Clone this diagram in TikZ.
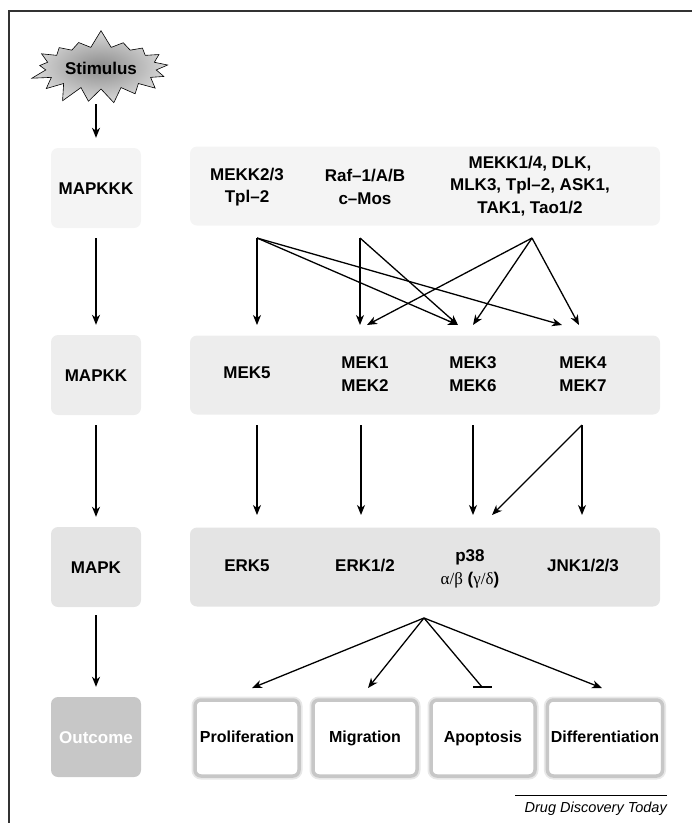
\documentclass[tikz,border=0pt]{standalone}
\usepackage{fontspec}
\setmainfont{Liberation Sans}
\newfontfamily\greekfont{Liberation Serif}
\usetikzlibrary{arrows.meta,shapes.symbols}
\definecolor{kkkgray}{gray}{0.955}
\definecolor{kkgray}{gray}{0.93}
\definecolor{kgray}{gray}{0.895}
\definecolor{outgray}{gray}{0.78}
\tikzset{
	lvlbox/.style={rounded corners=7pt, minimum width=90pt, minimum height=80pt, text height=12pt, text depth=0pt, font=\bfseries\fontsize{17}{22}\selectfont},
	rowbox/.style={rounded corners=7pt, minimum width=470pt, minimum height=79pt},
	lbl/.style={align=center, font=\bfseries\fontsize{17}{22.5}\selectfont},
	outbox/.style={preaction={draw=black!9, line width=7pt}, draw=black!22, line width=3.5pt, rounded corners=6pt, fill=white, minimum width=104pt, minimum height=76pt, text height=12pt, text depth=4pt, font=\bfseries\fontsize{16}{22}\selectfont},
	arr/.style={line width=1.3pt, -{Stealth[length=10pt, width=8pt, inset=3pt]}},
}

\begin{document}
\begin{tikzpicture}[x=1pt, y=-1pt]
		%%%%% START %%%%%
		\useasboundingbox (0, 0) rectangle (692, 823);
		
		\draw[line width=1.5pt, color=black!80] (692, 11) -- (9, 11) -- (9, 823);
		
		\node[starburst, starburst points=17, starburst point height=18pt, random starburst=7, minimum width=124pt, minimum height=78pt, draw=black, line width=0.6pt, inner color=black!45, outer color=black!15, font=\bfseries\fontsize{17}{22}\selectfont] (stim) at (101, 68) {Stimulus};
		\coordinate (stimfoot) at (96, 104);
		
		% level boxes on the left
		\node[lvlbox, fill=kkkgray] (mapkkk) at (96, 188) {MAPKKK};
		\node[lvlbox, fill=kkgray] (mapkk) at (96, 375) {MAPKK};
		\node[lvlbox, fill=kgray] (mapk) at (96, 567) {MAPK};
		\node[lvlbox, fill=outgray, text=white] (outcome) at (96, 737) {Outcome};
		
		\draw[arr, shorten >=10pt] (stimfoot) -- (mapkkk.north);
		\draw[arr, shorten <=10pt, shorten >=10pt] (mapkkk.south) -- (mapkk.north);
		\draw[arr, shorten <=10pt, shorten >=10pt] (mapkk.south) -- (mapk.north);
		\draw[arr, shorten <=8pt, shorten >=10pt] (mapk.south) -- (outcome.north);
		
		% rows
		\node[rowbox, fill=kkkgray] (rowkkk) at (425, 186) {};
		\node[rowbox, fill=kkgray] (rowkk) at (425, 375) {};
		\node[rowbox, fill=kgray] (rowk) at (425, 567) {};
		
		\node[lbl] (mekk23) at (247, 187) {MEKK2/3\\Tpl--2};
		\node[lbl] (raf) at (365, 187) {Raf--1/A/B\\c--Mos};
		\node[lbl] (mekk14) at (530, 186) {MEKK1/4, DLK,\\MLK3, Tpl--2, ASK1,\\TAK1, Tao1/2};
		
		\node[lbl] (mek5) at (247, 373) {MEK5};
		\node[lbl] (mek12) at (365, 374) {MEK1\\MEK2};
		\node[lbl] (mek36) at (473, 374) {MEK3\\MEK6};
		\node[lbl] (mek47) at (583, 374) {MEK4\\MEK7};
		
		\node[lbl] (erk5) at (247, 566) {ERK5};
		\node[lbl] (erk12) at (365, 566) {ERK1/2};
		\node[lbl] (p38) at (470, 569) {p38\\{\mdseries\greekfont α/β} ({\mdseries\greekfont γ/δ})};
		\node[lbl] (jnk) at (583, 566) {JNK1/2/3};
		
		% MAPKKK -> MAPKK
		\coordinate (srcA) at (257, 238);
		\coordinate (srcB) at (360, 238);
		\coordinate (srcC) at (532, 238);
		\coordinate (tgtA) at (257, 325);
		\coordinate (tgtB) at (360, 325);
		\coordinate (tgtBr) at (367, 325);
		\coordinate (tgtC) at (458, 325);
		\coordinate (tgtCr) at (473, 325);
		\coordinate (tgtD) at (562, 325);
		\coordinate (tgtDr) at (579, 325);
		
		\draw[arr] (srcA) -- (tgtA);
		\draw[arr] (srcA) -- (tgtC);
		\draw[arr] (srcA) -- (tgtD);
		\draw[arr] (srcB) -- (tgtB);
		\draw[arr] (srcB) -- (tgtC);
		\draw[arr] (srcC) -- (tgtBr);
		\draw[arr] (srcC) -- (tgtCr);
		\draw[arr] (srcC) -- (tgtDr);
		
		% MAPKK -> MAPK
		\coordinate (mA) at (257, 425);
		\coordinate (mB) at (361, 425);
		\coordinate (mC) at (473, 425);
		\coordinate (mD) at (582, 425);
		\coordinate (kA) at (257, 515);
		\coordinate (kB) at (361, 515);
		\coordinate (kC) at (473, 515);
		\coordinate (kCr) at (492, 515);
		\coordinate (kD) at (582, 515);
		
		\draw[arr] (mA) -- (kA);
		\draw[arr] (mB) -- (kB);
		\draw[arr] (mC) -- (kC);
		\draw[arr] (mD) -- (kCr);
		\draw[arr] (mD) -- (kD);
		
		% outcomes
		\node[outbox] (prolif) at (247, 738) {Proliferation};
		\node[outbox] (migr) at (365, 738) {Migration};
		\node[outbox] (apopt) at (483, 738) {Apoptosis};
		\node[outbox] (diff) at (605, 738) {Differentiation};
		
		\coordinate (pfoot) at (424, 618);
		\coordinate (bar) at (482, 687);
		\draw[arr] (pfoot) -- (252, 688);
		\draw[arr] (pfoot) -- (368, 688);
		\draw[line width=1.3pt] (pfoot) -- (bar);
		\draw[line width=1.5pt] (473, 687) -- (492, 687);
		\draw[arr] (pfoot) -- (602, 688);
		
		\draw[line width=0.8pt] (515, 795) -- (667, 795);
		\node[anchor=base east, font=\itshape\fontsize{14.5}{17}\selectfont, inner sep=0pt] (caption) at (667, 812) {Drug Discovery Today};
		
		%%%%% END %%%%%
	\end{tikzpicture}
\end{document}
